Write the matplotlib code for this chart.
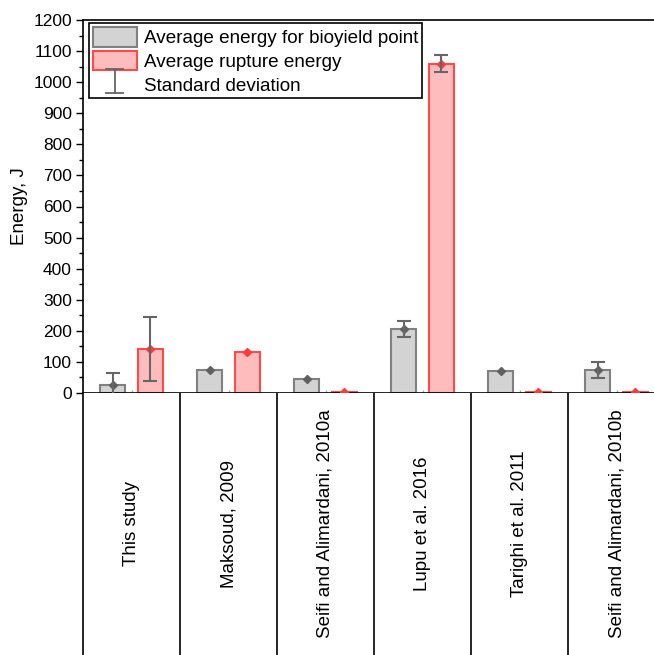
import numpy as np
import matplotlib
matplotlib.use('Agg')
import matplotlib.pyplot as plt
from matplotlib.patches import Patch
from matplotlib.lines import Line2D
from matplotlib.legend_handler import HandlerBase

plt.rcParams['font.family'] = ['Liberation Sans', 'DejaVu Sans']

# data
studies = ['This study', 'Maksoud, 2009', 'Seifi and Alimardani, 2010a',
           'Lupu et al. 2016', 'Tarighi et al. 2011', 'Seifi and Alimardani, 2010b']
bioyield = [26, 74, 45, 206, 70, 73]
bioyield_sd = [37, 0, 0, 27, 0, 26]
rupture = [142, 131, 2, 1060, 2, 2]
rupture_sd = [104, 0, 0, 28, 0, 0]
yticks = np.arange(0, 1201, 100)

W, H = 654, 655
fig = plt.figure(figsize=(W / 100, H / 100), dpi=100)

x0, x1 = 83, 665   # last column runs past the right edge of the picture
ytop, ybot = 20, 393
ax = fig.add_axes([x0 / W, 1 - ybot / H, (x1 - x0) / W, (ybot - ytop) / H])
lab = fig.add_axes([x0 / W, 0, (x1 - x0) / W, 1 - ybot / H])

pos = np.arange(len(studies)) + 0.5
bw = 0.26
off = 0.195

gray_fc, gray_ec = '#d3d3d3', '#808080'
red_fc, red_ec = '#ffbcbc', '#ff4a4a'
err_c = '#666666'

ax.bar(pos - off, bioyield, bw, color=gray_fc, edgecolor=gray_ec, linewidth=1.5, zorder=2)
ax.bar(pos + off, rupture, bw, color=red_fc, edgecolor=red_ec, linewidth=1.5, zorder=2)
ax.plot(pos - off, bioyield, 'D', ms=4, color='#606060', zorder=3)
ax.plot(pos + off, rupture, 'D', ms=4, color='#ff3a3a', zorder=3)

for xs, vals, sds in [(pos - off, bioyield, bioyield_sd), (pos + off, rupture, rupture_sd)]:
    for x, v, s in zip(xs, vals, sds):
        if s > 0:
            ax.errorbar(x, v, yerr=s, fmt='none', ecolor=err_c, elinewidth=1.5,
                        capsize=5, capthick=1.5, zorder=4)

ax.set_xlim(0, 6)
ax.set_ylim(0, 1200)
ax.set_yticks(yticks)
ax.set_yticks(np.arange(50, 1200, 100), minor=True)
ax.tick_params(axis='y', direction='out', length=5, width=1, labelsize=12.5, pad=3)
ax.tick_params(axis='y', which='minor', direction='out', length=3, width=1)
ax.set_xticks(pos)
ax.set_xticklabels([])
ax.tick_params(axis='x', direction='in', length=2, width=1, color='#aaaaaa')
ax.spines['right'].set_visible(False)
for s in ['left', 'bottom', 'top']:
    ax.spines[s].set_linewidth(1.2)
ax.set_ylabel('Energy, J', fontsize=13.5, labelpad=4)


class IBeamHandler(HandlerBase):
    def create_artists(self, legend, orig_handle, xd, yd, width, height, fontsize, trans):
        cx = xd + width / 2
        y0, y1 = yd - 0.3 * height, yd + 0.9 * height
        c = 6
        arts = [Line2D([cx, cx], [y0, y1]),
                Line2D([cx - c, cx + c], [y0, y0]),
                Line2D([cx - c, cx + c], [y1, y1])]
        for a in arts:
            a.set_color(err_c)
            a.set_linewidth(1.3)
            a.set_transform(trans)
        return arts


handles = [Patch(facecolor=gray_fc, edgecolor=gray_ec, linewidth=1.5),
           Patch(facecolor=red_fc, edgecolor=red_ec, linewidth=1.5),
           Line2D([], [])]
leg = ax.legend(handles,
                ['Average energy for bioyield point', 'Average rupture energy', 'Standard deviation'],
                handler_map={handles[2]: IBeamHandler()},
                loc='upper left', bbox_to_anchor=(0.01, 0.992), fontsize=13.6,
                frameon=True, fancybox=False, edgecolor='black', framealpha=1,
                handlelength=2.35, handleheight=1.25, labelspacing=0.18,
                borderpad=0.2, handletextpad=0.35, borderaxespad=0)
leg.get_frame().set_linewidth(1.2)

# label table under the axis
lab.set_xlim(0, 6)
lab.set_ylim(0, 1)
lab.set_xticks([])
lab.set_yticks([])
for s in ['top', 'right', 'bottom']:
    lab.spines[s].set_visible(False)
lab.spines['left'].set_linewidth(1.2)
for b in range(1, 7):
    lab.axvline(b, color='black', lw=1.2)
for x, name in zip(pos, studies):
    lab.text(x, 0.5, name, rotation=90, ha='center', va='center', fontsize=13.5)

fig.savefig('out.png', dpi=100)
